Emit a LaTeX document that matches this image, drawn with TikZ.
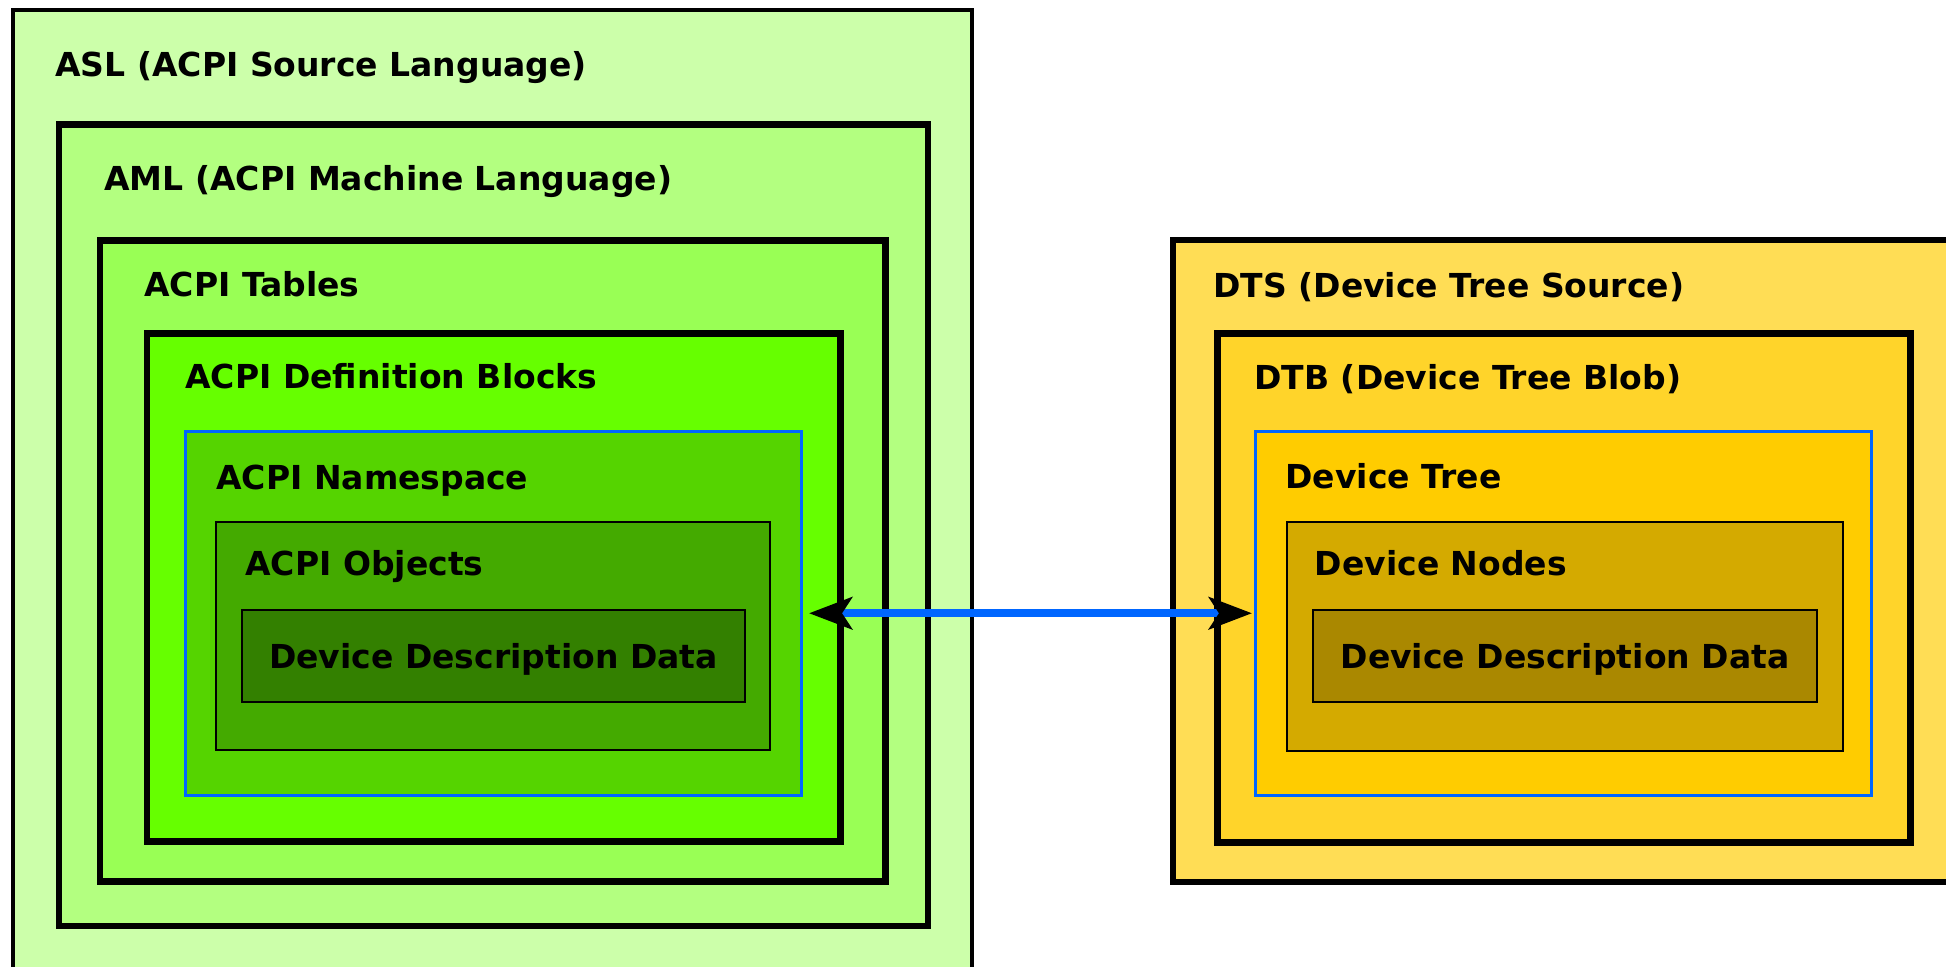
\documentclass[tikz,border=0pt]{standalone}
\usepackage{fontspec}
\setmainfont{DejaVu Sans}
\usetikzlibrary{arrows.meta, fit, positioning}

\definecolor{aslfill}{HTML}{CCFFAA}
\definecolor{amlfill}{HTML}{B3FF80}
\definecolor{tblfill}{HTML}{99FF55}
\definecolor{dbfill}{HTML}{66FF00}
\definecolor{nsfill}{HTML}{55D400}
\definecolor{objfill}{HTML}{44AA00}
\definecolor{acpidata}{HTML}{338000}
\definecolor{dtsfill}{HTML}{FFDD55}
\definecolor{dtbfill}{HTML}{FFD42A}
\definecolor{dtfill}{HTML}{FFCC00}
\definecolor{dnfill}{HTML}{D4AA00}
\definecolor{dtdata}{HTML}{AA8800}
\definecolor{linkblue}{HTML}{0066FF}

\newcommand{\boxfont}{\fontsize{16.5}{20}\selectfont\bfseries}

\begin{document}
\begin{tikzpicture}[x=0.5pt, y=-0.5pt,
		frame/.style={draw, line width=3.25pt, inner sep=0pt},
		bluebox/.style={draw=linkblue, line width=1.5pt, inner sep=0pt},
		thinbox/.style={draw, line width=0.75pt, inner sep=0pt},
		title/.style={anchor=base west, inner sep=0pt, font=\boxfont},
		>={Stealth[length=21.5pt, width=16pt, inset=5pt, color=black]},
		link/.style={draw=linkblue, line width=4pt, <->}]
		\useasboundingbox (0,0) rectangle (1946,967);
		\clip (0,0) rectangle (1946,967);
		\fill[white] (0,0) rectangle (1946,967);
		% ACPI side
		\node[frame, line width=2pt, fill=aslfill, fit={(13,10) (972,1010)}] (asl) {};
		\node[title] (asl-txt) at (55,77) {ASL (ACPI Source Language)};
		\node[frame, fill=amlfill, fit={(59,124.5) (928,926)}] (aml) {};
		\node[title] (aml-txt) at (104,191) {AML (ACPI Machine Language)};
		\node[frame, fill=tblfill, fit={(100,240.5) (885.5,881.5)}] (tables) {};
		\node[title] (tables-txt) at (144,297) {ACPI Tables};
		\node[frame, fill=dbfill, fit={(147,333.5) (840.5,841.5)}] (defblk) {};
		\node[title] (defblk-txt) at (185,389) {ACPI Definition Blocks};
		\node[bluebox, fill=nsfill, fit={(185.5,431.5) (801,795)}] (ns) {};
		\node[title] (ns-txt) at (216,489) {ACPI Namespace};
		\node[thinbox, fill=objfill, fit={(216,522) (770,750)}] (obj) {};
		\node[title] (obj-txt) at (245,575) {ACPI Objects};
		\node[thinbox, fill=acpidata, fit={(242,610) (745,702)},
			label={[font=\boxfont, text depth=0pt]center:Device Description Data}] (acpi-data) {};
		% device tree side
		\node[frame, line width=3pt, fill=dtsfill, fit={(1172.5,240) (2010,881.5)}] (dts) {};
		\node[title] (dts-txt) at (1213,298) {DTS (Device Tree Source)};
		\node[frame, line width=3.5pt, fill=dtbfill, fit={(1217.5,333.5) (1910,842)}] (dtb) {};
		\node[title] (dtb-txt) at (1254,390) {DTB (Device Tree Blob)};
		\node[bluebox, fill=dtfill, fit={(1255.5,431.5) (1871,795)}] (dt) {};
		\node[title] (dt-txt) at (1285,488) {Device Tree};
		\node[thinbox, fill=dnfill, fit={(1287,522) (1843,751)}] (dn) {};
		\node[title] (dn-txt) at (1314.5,575) {Device Nodes};
		\node[thinbox, fill=dtdata, fit={(1313,610) (1817,702)},
			label={[font=\boxfont, text depth=0pt]center:Device Description Data}] (dt-data) {};
		\draw[link, shorten <=3.25pt, shorten >=1pt] (ns.east) -- (dt.west);
	\end{tikzpicture}
\end{document}
